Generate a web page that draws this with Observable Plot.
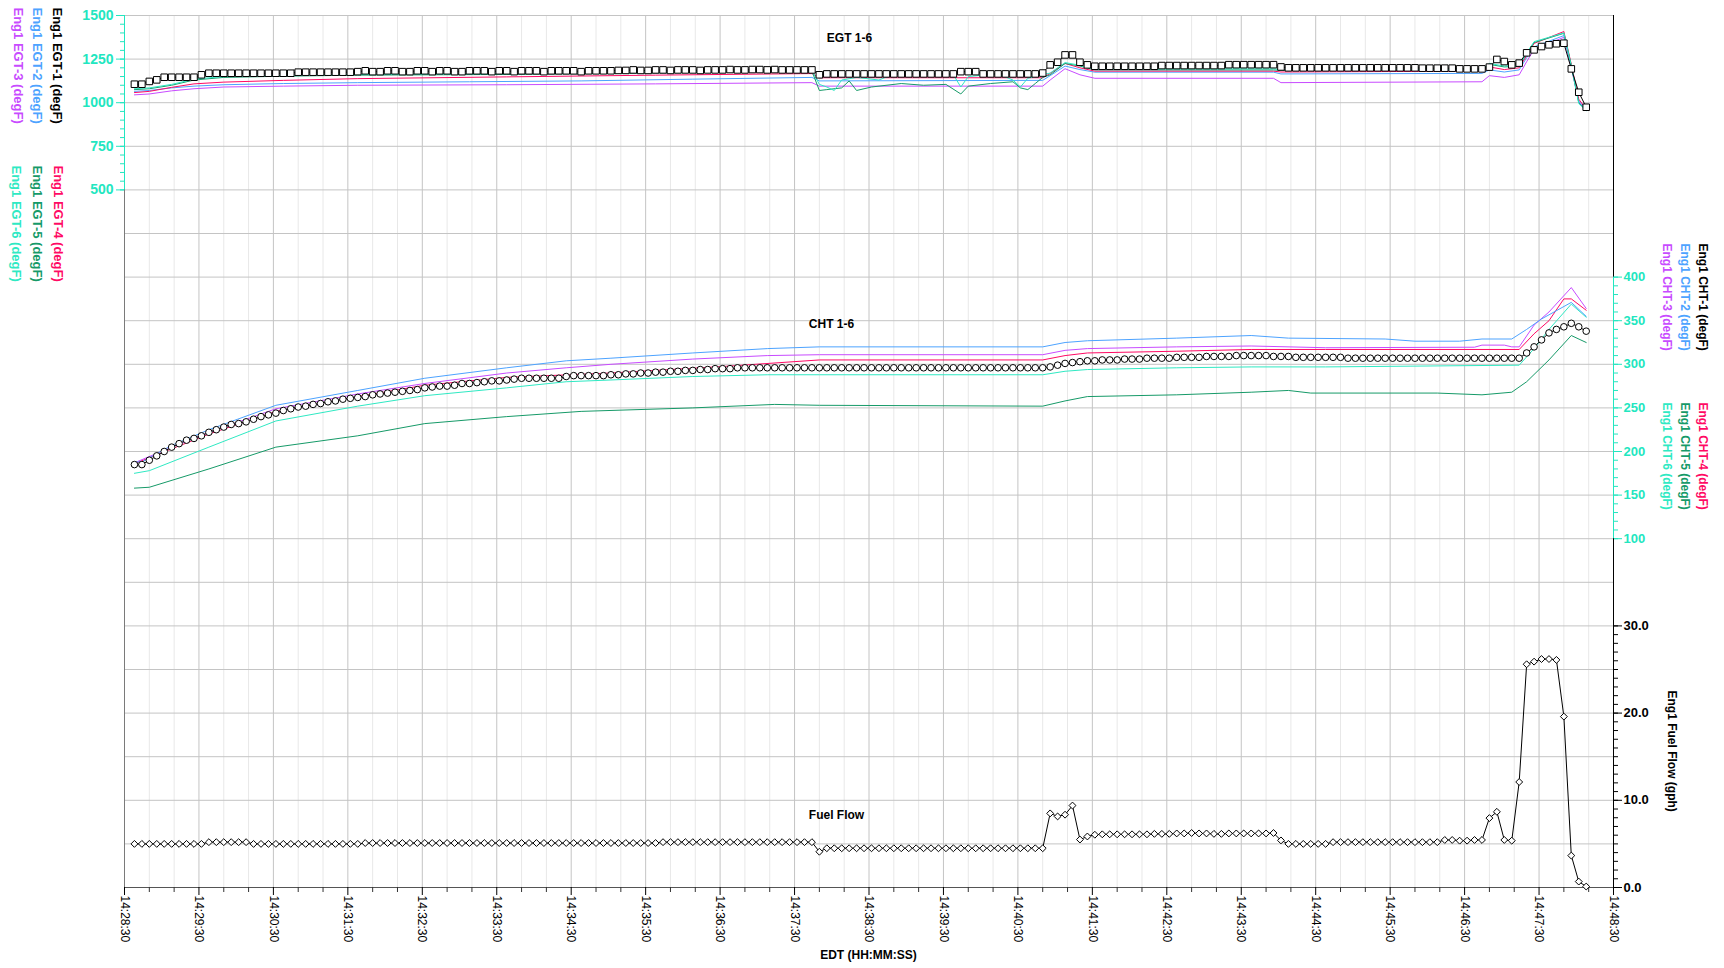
<!DOCTYPE html>
<html>
<head>
<meta charset="utf-8">
<script src="https://cdn.jsdelivr.net/npm/d3@7"></script>
<script src="https://cdn.jsdelivr.net/npm/@observablehq/plot@0.6"></script>
<style>
  html, body { margin: 0; padding: 0; background: #fff; }
  #wrap { position: relative; width: 1724px; height: 968px; overflow: hidden; }
  #wrap svg { position: absolute; left: 0; top: 0; max-width: none; }
</style>
</head>
<body>
<div id="wrap"></div>
<script>
// ---------------- DATA ----------------
// time axis: 14:28:30 .. 14:48:30 EDT, samples every 6 s starting 14:28:38
const T0 = Date.UTC(2021, 5, 1, 14, 28, 30);
const SPAN_MIN = 20;
const SAMPLE_OFFSET_S = 8, SAMPLE_STEP_S = 6;

// Eng1 EGT-1 (degF) — square markers, one value per sample
const egt1 = [
  1106,1106,1122,1131,1146,1146,1146,1146,1146,1160,
  1169,1169,1169,1169,1169,1169,1169,1169,1169,1169,1169,1169,
  1175,1175,1175,1175,1175,1175,1175,1175,
  1178,1183,1178,1178,1183,1183,1178,1178,1183,1183,1178,1183,1183,1178,1178,1183,1183,1183,1178,1183,
  1183,1178,1183,1183,1183,1178,1183,1183,1183,1183,1178,1183,1183,1183,1183,
  1185,1185,1188,1185,1185,1188,1188,1185,1188,1188,1188,1185,1188,1188,1188,1190,1188,1188,1190,1190,1188,1190,
  1188,1188,1188,1188,1188,
  1160,
  1165,1165,1165,1165,1165,1165,1165,1165,1165,1165,1165,1165,1165,1165,1165,1165,1165,1165,
  1178,1178,1178,
  1165,1165,1165,1165,1165,1165,1165,1165,1170,
  1217,1232,1274,1274,1232,1217,
  1209,1209,1209,1209,1209,1209,1209,1209,1209,1213,1213,1213,1213,1213,1213,1213,1213,1213,1218,1218,1218,1218,1218,1218,1218,
  1205,1200,1200,1200,1200,1200,1200,1200,1200,1200,1200,1200,1200,1200,1200,1200,1200,1200,1200,1198,1198,1198,1198,1198,
  1194,1194,1194,1194,
  1204,1248,1236,1217,1227,1286,1303,1322,1332,1338,1341,1194,1060,974
];

// Eng1 CHT-1 (degF) — circle markers, one value per sample
const cht1 = [
  185,185,190,195,200,205,209,213,215,218,
  222,225,228,231,232,234,237,240,242,244,
  247,249,251,252,254,255,257,258,260,261,
  262,263,265,266,267,268,269,270,271,273,
  274,275,275,276,278,278,279,280,281,281,
  282,283,284,284,284,284,284,284,286,287,
  287,287,287,287,
  288,288,289,289,290,290,291,
  291,292,292,293,293,294,294,295,295,295,
  296,296,296,296,296,296,296,296,296,296,296,296,296,296,296,296,296,296,296,296,296,
  296,296,296,296,296,296,296,296,296,296,296,296,296,296,296,296,296,296,296,296,296,
  297,299,301,302,303,304,304,305,
  305,305,306,306,306,307,307,307,307,308,308,308,308,309,309,309,309,310,310,310,310,310,309,
  309,309,308,308,308,308,308,308,308,
  307,307,307,307,307,307,307,307,307,307,307,307,307,307,307,307,307,307,307,307,307,307,307,
  307,313,320,328,336,340,343,347,343,338
];

// Eng1 Fuel Flow (gph) — diamond markers, one value per sample
const fuel = [
  5.0,5.0,5.0,5.0,5.0,5.0,5.0,5.0,5.0,5.0,
  5.2,5.2,5.2,5.2,5.2,5.2,
  5.0,5.0,5.0,5.0,5.0,5.0,5.0,5.0,5.0,5.0,5.0,5.0,5.0,5.0,5.0,
  5.1,5.1,5.1,5.1,5.1,5.1,5.1,5.1,5.1,5.1,5.1,5.1,5.1,5.1,5.1,5.1,5.1,5.1,5.1,5.1,
  5.1,5.1,5.1,5.1,5.1,5.1,5.1,5.1,5.1,5.1,5.1,5.1,5.1,5.1,5.1,5.1,5.1,5.1,5.1,5.1,
  5.2,5.2,5.2,5.2,5.2,5.2,5.2,5.2,5.2,5.2,5.2,5.2,5.2,5.2,5.2,5.2,5.2,5.2,5.2,5.2,5.2,
  4.1,
  4.5,4.5,4.5,4.5,4.5,4.5,4.5,4.5,4.5,4.5,4.5,4.5,4.5,4.5,4.5,4.5,4.5,4.5,4.5,4.5,4.5,4.5,4.5,4.5,4.5,4.5,4.5,4.5,4.5,4.5,
  8.5,8.15,8.35,9.4,5.5,5.85,
  6.05,6.1,6.1,6.1,6.1,6.1,6.1,6.1,6.15,6.15,6.15,6.2,6.2,6.25,6.2,6.2,6.15,6.15,6.2,6.2,6.2,6.2,6.2,6.2,6.25,
  5.4,
  5.0,5.0,5.0,5.0,5.0,5.0,
  5.2,5.2,5.2,5.2,5.2,5.2,5.2,5.2,5.2,5.2,5.2,5.2,5.2,5.2,5.2,
  5.45,5.45,5.37,5.37,5.45,5.45,7.96,8.68,5.45,5.37,12.1,25.6,25.9,26.2,26.2,26.1,19.6,3.66,0.68,0.11
];

// Unmarked lines: [sample index, value] vertices
const egt2 = [[0,1065],[2,1070],[5,1085],[8,1095],[12,1103],[20,1110],[30,1115],[45,1120],[60,1125],[75,1135],[91,1145],[92,1125],[122,1128],[123,1155],[125,1210],[127,1190],[129,1175],[153,1175],[154,1165],[181,1168],[182,1188],[184,1176],[186,1188],[187,1258],[188,1320],[192,1385],[193,1210],[194,1010],[195,962]];
const egt3 = [[0,1045],[2,1050],[5,1068],[8,1080],[12,1090],[20,1095],[30,1100],[50,1103],[70,1108],[91,1115],[92,1095],[122,1095],[123,1130],[125,1195],[127,1160],[129,1140],[153,1140],[154,1115],[181,1120],[182,1155],[184,1145],[186,1160],[187,1235],[188,1305],[192,1375],[193,1200],[194,1005],[195,960]];
const egt4 = [[0,1058],[2,1065],[5,1088],[8,1108],[12,1118],[20,1128],[30,1138],[50,1148],[70,1158],[91,1167],[92,1143],[122,1143],[123,1168],[125,1225],[127,1200],[129,1181],[153,1181],[154,1176],[181,1181],[182,1205],[184,1190],[186,1200],[187,1270],[188,1340],[192,1408],[193,1220],[194,1020],[195,965]];
const egt5 = [[0,1075],[2,1080],[5,1100],[8,1130],[12,1145],[20,1152],[30,1158],[50,1162],[70,1170],[91,1181],[92,1070],[93,1075],[95,1085],[96,1125],[97,1070],[99,1090],[103,1110],[106,1100],[109,1105],[111,1050],[112,1095],[115,1110],[118,1120],[119,1085],[120,1075],[121,1110],[122,1145],[123,1160],[125,1225],[127,1210],[129,1188],[153,1188],[154,1185],[181,1189],[182,1220],[184,1205],[186,1210],[187,1280],[188,1345],[192,1398],[193,1215],[194,1000],[195,955]];
const egt6 = [[0,1080],[2,1085],[5,1105],[8,1135],[12,1150],[20,1157],[30,1162],[50,1166],[70,1175],[91,1185],[92,1105],[93,1090],[94,1070],[95,1130],[97,1145],[100,1130],[102,1165],[104,1180],[106,1170],[110,1160],[111,1090],[112,1150],[116,1165],[118,1130],[119,1090],[120,1140],[122,1160],[123,1170],[125,1230],[127,1215],[129,1194],[153,1194],[154,1190],[181,1190],[182,1225],[184,1210],[186,1215],[187,1285],[188,1350],[192,1400],[193,1210],[194,995],[195,955]];

const cht2 = [[0,188],[1,188],[5,207],[10,225],[19,253],[30,270],[39,284],[50,296],[58,304],[64,307],[75,313],[85,318],[92,320],[122,320],[125,325],[128,327],[140,330],[150,333],[155,330],[168,329],[172,326.5],[178,326.5],[181,329],[185,329],[187,340],[189,352],[193,371],[195,355]];
const cht3 = [[0,187],[5,205],[10,222],[19,249],[30,266],[39,278],[50,290],[58,296],[64,300],[75,306],[85,310],[92,311],[122,311],[125,316],[128,318],[140,320],[150,321],[160,319],[180,319.6],[181,322],[184,322],[185,320],[186,320],[188,345],[190,360],[193,388],[195,364]];
const cht4 = [[0,186],[5,203],[10,220],[19,246],[30,263],[39,276],[50,285],[64,290],[80,298],[92,305],[122,305],[125,310],[128,313],[140,315],[150,317],[160,317],[186,317],[188,335],[190,350],[192,375],[193,375],[195,362]];
const cht5 = [[0,158],[2,159],[10,180],[19,205],[30,218],[39,232],[50,240],[60,246],[75,250],[86,254],[92,253],[122,252],[125,258],[128,263],[140,265],[150,268],[155,270],[158,267],[175,267],[181,265],[185,268],[187,280],[190,305],[193,333],[195,325]];
const cht6 = [[0,175],[2,178],[10,205],[19,235],[30,252],[39,264],[50,273],[58,280],[64,282],[75,286],[85,288],[92,288],[122,288],[125,292],[128,294],[140,296],[150,297],[160,297],[186,299],[188,318],[190,340],[193,369],[195,354]];

// axis ticks
const egtTicks = [500, 750, 1000, 1250, 1500];
const chtTicks = [100, 150, 200, 250, 300, 350, 400];
const fuelTicks = [0, 10, 20, 30];

// ---------------- STYLE ----------------
const COLORS = {
  c1: "#000000", c2: "#4da3ff", c3: "#c84bff",
  c4: "#ff0a64", c5: "#169a68", c6: "#2fe9c3"
};
const AXIS_CYAN = "#22e6c0";
const FONT = "'Liberation Sans', Arial, Helvetica, sans-serif";
const W = 1724, H = 968, ML = 124, MR = 111, MT = 15, MB = 81;

// ---------------- HELPERS ----------------
const timeOf = i => new Date(T0 + (SAMPLE_OFFSET_S + SAMPLE_STEP_S * i) * 1000);
const X_START = new Date(T0), X_END = new Date(T0 + SPAN_MIN * 60000);
const ticks20 = d3.range(0, SPAN_MIN * 3 + 1).map(k => new Date(T0 + k * 20000));
const ticksMajor = ticks20.filter((d, k) => k % 3 === 0);
const ticksMinor = ticks20.filter((d, k) => k % 3 !== 0);
const fmt = d3.utcFormat("%H:%M:%S");
const series = arr => arr.map((v, i) => ({t: timeOf(i), v}));
const pairs = arr => arr.map(([i, v]) => ({t: timeOf(i), v}));

const common = {
  width: W, height: H,
  marginLeft: ML, marginRight: MR, marginTop: MT, marginBottom: MB,
  x: {type: "utc", domain: [X_START, X_END], axis: null, label: null},
  style: {fontFamily: FONT, fontSize: "13px", fontWeight: "bold", background: "transparent", overflow: "visible"}
};

const vText = (label, color, x, y, size = 12) =>
  Plot.text([label], {
    text: d => d, frameAnchor: "top-left", dx: x - ML, dy: y - MT,
    rotate: 90, textAnchor: "start", lineAnchor: "middle",
    fill: color, fontSize: size, fontWeight: "bold"
  });
const hText = (label, x, y, size = 12) =>
  Plot.text([label], {
    text: d => d, frameAnchor: "top-left", dx: x - ML, dy: y - MT,
    textAnchor: "middle", lineAnchor: "middle",
    fill: "#000", fontSize: size, fontWeight: "bold"
  });

// ---------------- BASE PLOT: grid, time axis, fuel flow ----------------
const base = Plot.plot({
  ...common,
  style: {...common.style, background: "#ffffff"},
  y: {domain: [0, 100], axis: null, label: null},
  marks: [
    Plot.ruleX(ticksMinor, {x: d => d, stroke: "#e8e8e8"}),
    Plot.ruleX(ticksMajor, {x: d => d, stroke: "#c4c4c4"}),
    Plot.ruleY(d3.range(5, 101, 5), {y: d => d, stroke: "#c4c4c4"}),
    Plot.ruleX([X_START], {x: d => d, stroke: "#7a7a7a"}),
    Plot.ruleY([0], {y: d => d, stroke: "#555"}),
    Plot.ruleX([X_END], {x: d => d, stroke: "#000"}),
    // time axis ticks and labels
    Plot.axisX(ticksMinor, {tickSize: 5, tickFormat: () => "", stroke: "#333", label: null}),
    Plot.axisX(ticksMajor, {tickSize: 8, tickFormat: () => "", stroke: "#000", label: null}),
    Plot.text(ticksMajor, {
      x: d => d, text: d => fmt(d), frameAnchor: "bottom", dy: 8,
      rotate: 90, textAnchor: "start", lineAnchor: "middle",
      fill: "#000", fontSize: 12, fontWeight: "normal"
    }),
    // fuel axis (right)
    Plot.axisY(d3.range(0, 31, 1), {anchor: "right", tickSize: 4, tickFormat: () => "", stroke: "#000", label: null}),
    Plot.axisY(fuelTicks, {anchor: "right", tickSize: 8, tickPadding: 2, tickFormat: d => d.toFixed(1),
      stroke: "#000", fill: "#000", fontSize: 13, fontWeight: "bold", label: null}),
    // fuel flow series
    Plot.line(series(fuel), {x: "t", y: "v", stroke: "#000", strokeWidth: 1}),
    Plot.dot(series(fuel), {x: "t", y: "v", symbol: "diamond2", r: 3.1, fill: "#fff", stroke: "#000", strokeWidth: 1}),
    // titles / legends
    hText("EGT 1-6", 849, 38),
    hText("CHT 1-6", 831, 324),
    hText("Fuel Flow", 836, 815),
    hText("EDT (HH:MM:SS)", 868, 955),
    vText("Eng1 EGT-1 (degF)", COLORS.c1, 57, 7, 13),
    vText("Eng1 EGT-2 (degF)", COLORS.c2, 37, 7, 13),
    vText("Eng1 EGT-3 (degF)", COLORS.c3, 18, 7, 13),
    vText("Eng1 EGT-4 (degF)", COLORS.c4, 58, 165, 13),
    vText("Eng1 EGT-5 (degF)", COLORS.c5, 37, 165, 13),
    vText("Eng1 EGT-6 (degF)", COLORS.c6, 16, 165, 13),
    vText("Eng1 CHT-1 (degF)", COLORS.c1, 1702, 243),
    vText("Eng1 CHT-2 (degF)", COLORS.c2, 1684, 243),
    vText("Eng1 CHT-3 (degF)", COLORS.c3, 1666, 243),
    vText("Eng1 CHT-4 (degF)", COLORS.c4, 1702, 402),
    vText("Eng1 CHT-5 (degF)", COLORS.c5, 1684, 402),
    vText("Eng1 CHT-6 (degF)", COLORS.c6, 1666, 402),
    vText("Eng1 Fuel Flow (gph)", "#000", 1671, 690)
  ]
});

// ---------------- CHT OVERLAY ----------------
const chtLines = [[cht6, COLORS.c6], [cht5, COLORS.c5], [cht4, COLORS.c4], [cht3, COLORS.c3], [cht2, COLORS.c2]];
const cht = Plot.plot({
  ...common,
  y: {domain: [-300, 700], axis: null, label: null},
  marks: [
    ...chtLines.map(([d, c]) => Plot.line(pairs(d), {x: "t", y: "v", stroke: c, strokeWidth: 1})),
    Plot.line(series(cht1), {x: "t", y: "v", stroke: "#000", strokeWidth: 1}),
    Plot.dot(series(cht1), {x: "t", y: "v", symbol: "circle", r: 3.3, fill: "#fff", stroke: "#000", strokeWidth: 1}),
    Plot.ruleX([X_END], {x: d => d, y1: 100, y2: 400, stroke: AXIS_CYAN}),
    Plot.axisY(d3.range(100, 401, 10), {anchor: "right", tickSize: 4, tickFormat: () => "", stroke: AXIS_CYAN, label: null}),
    Plot.axisY(chtTicks, {anchor: "right", tickSize: 8, tickPadding: 2, tickFormat: d => String(d),
      stroke: AXIS_CYAN, fill: AXIS_CYAN, fontSize: 13, fontWeight: "bold", label: null})
  ]
});

// ---------------- EGT OVERLAY ----------------
const egtLines = [[egt3, COLORS.c3], [egt2, COLORS.c2], [egt4, COLORS.c4], [egt5, COLORS.c5], [egt6, COLORS.c6]];
const egt = Plot.plot({
  ...common,
  y: {domain: [-3500, 1500], axis: null, label: null},
  marks: [
    ...egtLines.map(([d, c]) => Plot.line(pairs(d), {x: "t", y: "v", stroke: c, strokeWidth: 1})),
    Plot.line(series(egt1), {x: "t", y: "v", stroke: "#000", strokeWidth: 1}),
    Plot.dot(series(egt1), {x: "t", y: "v", symbol: "square", r: 3.7, fill: "#fff", stroke: "#000", strokeWidth: 1}),
    Plot.ruleX([X_START], {x: d => d, y1: 500, y2: 1500, stroke: AXIS_CYAN}),
    Plot.axisY(d3.range(500, 1501, 50), {anchor: "left", tickSize: 4, tickFormat: () => "", stroke: AXIS_CYAN, label: null}),
    Plot.axisY(egtTicks, {anchor: "left", tickSize: 8, tickPadding: 3, tickFormat: d => String(d),
      stroke: AXIS_CYAN, fill: AXIS_CYAN, fontSize: 14, fontWeight: "bold", label: null})
  ]
});

const wrap = document.getElementById("wrap");
wrap.append(base, cht, egt);
</script>
</body>
</html>
